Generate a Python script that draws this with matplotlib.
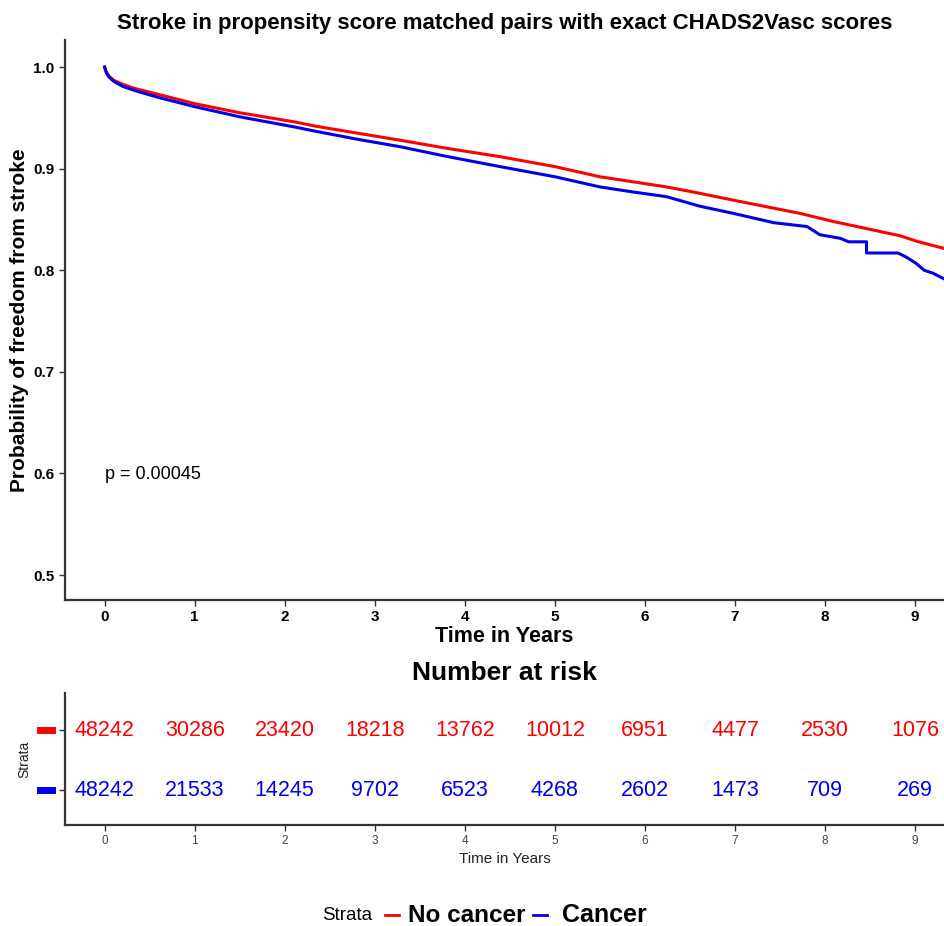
import matplotlib.pyplot as plt
import matplotlib.transforms as mtransforms
from matplotlib.lines import Line2D

plt.rcParams['font.family'] = ['Liberation Sans', 'DejaVu Sans']

# Kaplan-Meier curves
t_nocancer = [0, 0.02, 0.05, 0.1, 0.2, 0.33, 0.6, 1.0, 1.5, 2.11, 2.33, 2.8, 3.28,
              3.8, 4.39, 5.0, 5.5, 5.87, 6.24, 6.61, 6.98, 7.35, 7.72, 8.09,
              8.46, 8.83, 9.02, 9.32]
s_nocancer = [1.0, 0.995, 0.991, 0.987, 0.983, 0.979, 0.973, 0.964, 0.955, 0.946,
              0.942, 0.935, 0.928, 0.920, 0.9118, 0.902, 0.892, 0.887, 0.882,
              0.8757, 0.869, 0.8625, 0.856, 0.848, 0.841, 0.834, 0.8285, 0.8215]

t_cancer = [0, 0.02, 0.05, 0.1, 0.2, 0.33, 0.6, 1.0, 1.5, 2.11, 2.33, 2.8, 3.28,
            3.8, 4.39, 5.0, 5.5, 5.87, 6.24, 6.61, 6.98, 7.43, 7.80, 7.94, 8.17,
            8.26, 8.46, 8.46, 8.81, 8.90, 9.01, 9.10, 9.20, 9.31]
s_cancer = [1.0, 0.994, 0.990, 0.986, 0.981, 0.977, 0.970, 0.961, 0.951, 0.941,
            0.937, 0.929, 0.9216, 0.912, 0.902, 0.892, 0.882, 0.877, 0.8724,
            0.863, 0.856, 0.8468, 0.843, 0.835, 0.8314, 0.828, 0.828, 0.817,
            0.817, 0.813, 0.8068, 0.800, 0.797, 0.792]

# number at risk
risk_times = [0, 1, 2, 3, 4, 5, 6, 7, 8, 9]
risk_nocancer = [48242, 30286, 23420, 18218, 13762, 10012, 6951, 4477, 2530, 1076]
risk_cancer = [48242, 21533, 14245, 9702, 6523, 4268, 2602, 1473, 709, 269]

red = '#FF0000'
blue = '#0000EE'
xmin, xmax = -0.44, 9.32

fig = plt.figure(figsize=(9.44, 9.26), dpi=100)

# main survival plot
ax = fig.add_axes([65/944, 1-600/926, 1-65/944, 560/926])
ax.plot(t_nocancer, s_nocancer, color=red, lw=2.2)
ax.plot(t_cancer, s_cancer, color=blue, lw=2.2)
ax.set_xlim(xmin, xmax)
ax.set_ylim(0.4755, 1.0266)
ax.set_xticks(range(10))
ax.set_yticks([0.5, 0.6, 0.7, 0.8, 0.9, 1.0])
ax.set_yticklabels(['0.5', '0.6', '0.7', '0.8', '0.9', '1.0'])
for s in ['top', 'right']:
    ax.spines[s].set_visible(False)
for s in ['left', 'bottom']:
    ax.spines[s].set_color('#333333')
    ax.spines[s].set_linewidth(1.6)
ax.tick_params(length=4, width=1, color='#333333', labelsize=11)
for lab in ax.get_xticklabels() + ax.get_yticklabels():
    lab.set_fontweight('bold')
ax.set_xlabel('Time in Years', fontsize=15.5, fontweight='bold', labelpad=1)
ax.set_ylabel('Probability of freedom from stroke', fontsize=15, fontweight='bold', labelpad=3)
ax.set_title('Stroke in propensity score matched pairs with exact CHADS2Vasc scores',
             fontsize=16, fontweight='bold', pad=8)
ax.text(0, 0.599, 'p = 0.00045', fontsize=13, va='center', ha='left')

# risk table
tab = fig.add_axes([65/944, 1-825/926, 1-65/944, 132/926])
tab.set_xlim(xmin, xmax)
tab.set_ylim(0.42, 2.62)
for t, n1, n2 in zip(risk_times, risk_nocancer, risk_cancer):
    tab.text(t, 2, str(n1), color=red, fontsize=15.5, ha='center', va='center')
    tab.text(t, 1, str(n2), color=blue, fontsize=15.5, ha='center', va='center')
tab.set_xticks(range(10))
tab.set_yticks([1, 2])
tab.set_yticklabels(['', ''])
tab.tick_params(axis='x', length=4, width=1, color='#333333', labelsize=8.5, labelcolor='#444444')
tab.tick_params(axis='y', length=4, width=1, color='#333333')
for s in ['top', 'right']:
    tab.spines[s].set_visible(False)
for s in ['left', 'bottom']:
    tab.spines[s].set_color('#333333')
    tab.spines[s].set_linewidth(1.6)
trans = mtransforms.blended_transform_factory(tab.transAxes, tab.transData)
tab.plot([-0.029, -0.015], [2, 2], color=red, lw=5, transform=trans, clip_on=False)
tab.plot([-0.029, -0.015], [1, 1], color=blue, lw=5, transform=trans, clip_on=False)
tab.set_xlabel('Time in Years', fontsize=11, color='#222222', labelpad=3)
tab.set_ylabel('Strata', fontsize=10, color='#222222', labelpad=17)
tab.set_title('Number at risk', fontsize=19, fontweight='bold', pad=9)

# legend at the bottom
fy = 1 - 915/926
fig.text(322/944, fy, 'Strata', fontsize=13.5, va='center', ha='left')
fig.add_artist(Line2D([385/944, 399/944], [fy, fy], color=red, lw=2))
fig.text(408/944, fy, 'No cancer', fontsize=17.5, fontweight='bold', va='center', ha='left')
fig.add_artist(Line2D([533/944, 547/944], [fy, fy], color=blue, lw=2))
fig.text(562/944, fy, 'Cancer', fontsize=18, fontweight='bold', va='center', ha='left')

fig.savefig('out.png', dpi=100)
